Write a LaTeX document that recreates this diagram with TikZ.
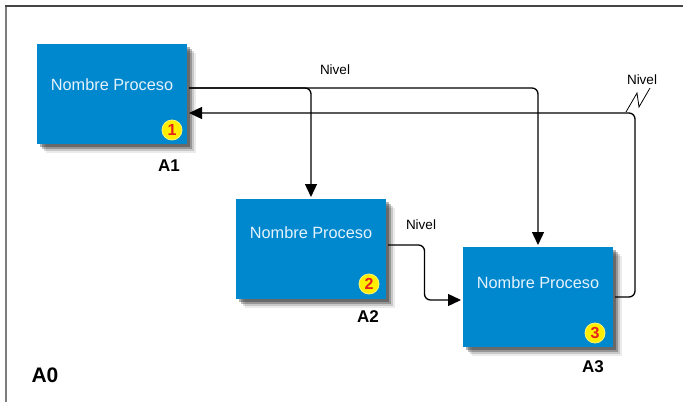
\documentclass[tikz,border=0pt]{standalone}
\usepackage{fontspec}
\setmainfont{Liberation Sans}
\usepackage{tikz}
\usetikzlibrary{positioning,arrows.meta,shadows,calc}
\usepackage{xcolor}
\definecolor{procblue}{RGB}{0,136,206}
\definecolor{proctext}{RGB}{228,242,252}
\definecolor{numyellow}{RGB}{255,238,0}
\definecolor{numred}{RGB}{230,30,30}
\definecolor{framegray}{RGB}{70,70,70}

\begin{document}
\begin{tikzpicture}[x=1pt,y=-1pt,
  proc/.style={rectangle,fill=procblue,minimum width=150pt,minimum height=100pt,
               inner sep=0pt,outer sep=2pt,
               drop shadow={shadow xshift=9pt,shadow yshift=-9pt,fill=black,opacity=.08},
               drop shadow={shadow xshift=7pt,shadow yshift=-7pt,fill=black,opacity=.15},
               drop shadow={shadow xshift=5pt,shadow yshift=-5pt,fill=black,opacity=.25},
               drop shadow={shadow xshift=3pt,shadow yshift=-3pt,fill=black,opacity=.30}},
  ptxt/.style={text=proctext,font=\fontsize{16.3}{18}\selectfont,inner sep=0pt},
  num/.style={circle,fill=numyellow,draw=numyellow!55!white,line width=0.8pt,
              minimum size=20pt,inner sep=0pt,text=numred,
              font=\bfseries\fontsize{16}{16}\selectfont},
  tag/.style={font=\bfseries\fontsize{17}{18}\selectfont,inner sep=0pt},
  niv/.style={font=\fontsize{13.5}{15}\selectfont,inner sep=0pt},
  conn/.style={-{Triangle[length=13pt,width=12pt]},black,line width=1.3pt,rounded corners=6pt}
]
\useasboundingbox (0,0) rectangle (683,402);
\draw[framegray!70,line width=2pt] (6,402) -- (6,6);
\draw[framegray,line width=2pt] (5,6) -- (683,6);

\node[proc] (a1) at (112,94) {};
\node[proc] (a2) at (311,249) {};
\node[proc] (a3) at (538,297) {};

\node[ptxt] (t1) at ([yshift=9pt]a1.center) {Nombre Proceso};
\node[ptxt] (t2) at ([yshift=16pt]a2.center) {Nombre Proceso};
\node[ptxt] (t3) at ([yshift=14pt]a3.center) {Nombre Proceso};

\node[num] (n1) at ([xshift=-17pt,yshift=16pt]a1.south east) {1};
\node[num] (n2) at ([xshift=-19pt,yshift=17pt]a2.south east) {2};
\node[num] (n3) at ([xshift=-20pt,yshift=16pt]a3.south east) {3};

\node[tag] (l1) at ([xshift=-20pt,yshift=-20pt]a1.south east) {A1};
\node[tag] (l2) at ([xshift=-20pt,yshift=-16pt]a2.south east) {A2};
\node[tag] (l3) at ([xshift=-22pt,yshift=-18pt]a3.south east) {A3};
\node[font=\bfseries\fontsize{21}{22}\selectfont,inner sep=0pt] (a0) at (45,375) {A0};

% flechas
\draw[conn] ([yshift=6pt]a1.east) -| (a2.north);
\draw[conn] ([yshift=6pt]a1.east) -| (a3.north);
\draw[conn] ([yshift=4pt]a2.east) -| ($(a2.east)!0.5!(a3.west)$) |- ([yshift=-3pt]a3.west);
\draw[conn] (a3.east) -- ++(20pt,0) |- ([yshift=-19pt]a1.east);

\node[niv] (v1) at (335,70) {Nivel};
\node[niv] (v2) at (421,225) {Nivel};
\node[niv] (v3) at (642,80) {Nivel};
\draw[black,line width=0.8pt] (626,112) -- (637,93) -- (639,107) -- (650,88);
\end{tikzpicture}
\end{document}
